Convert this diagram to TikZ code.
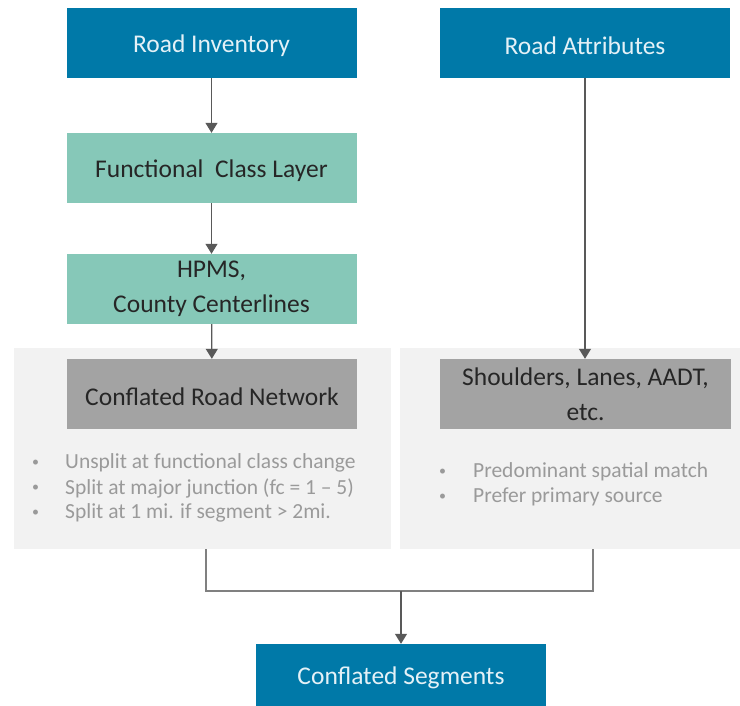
\documentclass[tikz,border=0pt]{standalone}
\usepackage{fontspec}
\setmainfont{Carlito}
\usetikzlibrary{arrows.meta}
\definecolor{blueBox}{HTML}{0079A8}
\definecolor{tealBox}{HTML}{86C8B8}
\definecolor{grayBox}{HTML}{A3A3A3}
\definecolor{panelFill}{HTML}{F2F2F2}
\definecolor{bulletText}{HTML}{9A9A9A}
\definecolor{arrowGray}{HTML}{595959}
\definecolor{joinGray}{HTML}{808080}
\definecolor{lightText}{HTML}{E4F1F7}
\begin{document}
\begin{tikzpicture}[x=1pt,y=-1pt,
  box/.style={minimum width=290pt, minimum height=70pt, inner sep=2pt, align=center,
    font=\fontsize{25.5}{34.5}\selectfont,
    execute at begin node={\rule{0pt}{24pt}}},
  bluebox/.style={box, fill=blueBox, text=lightText},
  tealbox/.style={box, fill=tealBox, text=black!85},
  graybox/.style={box, fill=grayBox, text=black!85},
  panel/.style={fill=panelFill, draw=none},
  flow/.style={draw=arrowGray, line width=1.2pt, -{Triangle[width=12pt,length=10pt]}},
  mergeline/.style={draw=joinGray, line width=1.2pt},
  bullet/.style={anchor=west, inner sep=0pt, text=bulletText, font=\fontsize{21.5}{25}\selectfont}]
\useasboundingbox (0,0) rectangle (740,706);

% grey panels behind the lower boxes
\path[panel] (14,348) rectangle (391,549);
\path[panel] (400,348) rectangle (740,549);
\coordinate (lpS) at (206,549);
\coordinate (rpS) at (593,549);

% boxes
\node[bluebox] (inv) at (211.5,43) {Road Inventory};
\node[tealbox] (fcl) at (211.5,168) {Functional~ Class Layer};
\node[tealbox] (hpms) at (211.5,289) {HPMS,\\County Centerlines};
\node[bluebox] (attr) at (585,43) {Road Attributes};
\node[graybox] (crn) at (212,394) {Conflated Road Network};
\node[graybox, minimum width=291pt] (sh) at (585.5,394) {Shoulders, Lanes, AADT,\\etc.};
\node[bluebox, minimum height=62pt] (seg) at (401,675) {Conflated Segments};

% bullet lists
\foreach \y/\t [count=\i] in {463/Unsplit at functional class change,
    488/Split at major junction (fc = 1 – 5),
    513/Split at 1 mi. if segment > 2mi.} {
  \node[bullet] (lb\i) at (32,\y) {\fontsize{14}{14}\selectfont•};
  \node[bullet] (lt\i) at (65,\y) {\t};
}
\foreach \y/\t [count=\i] in {472/Predominant spatial match,
    497/Prefer primary source} {
  \node[bullet] (rb\i) at (439,\y) {\fontsize{14}{14}\selectfont•};
  \node[bullet] (rt\i) at (473,\y) {\t};
}

% connectors
\draw[flow] (inv) -- (fcl);
\draw[flow] (fcl) -- (hpms);
\draw[flow] (hpms) -- (crn);
\draw[flow] (attr.south) -- (sh.north -| attr.south);
\coordinate (jn) at (401,591);
\draw[mergeline] (lpS) |- (jn) -| (rpS);
\draw[flow] (jn) -- (seg);
\end{tikzpicture}
\end{document}
